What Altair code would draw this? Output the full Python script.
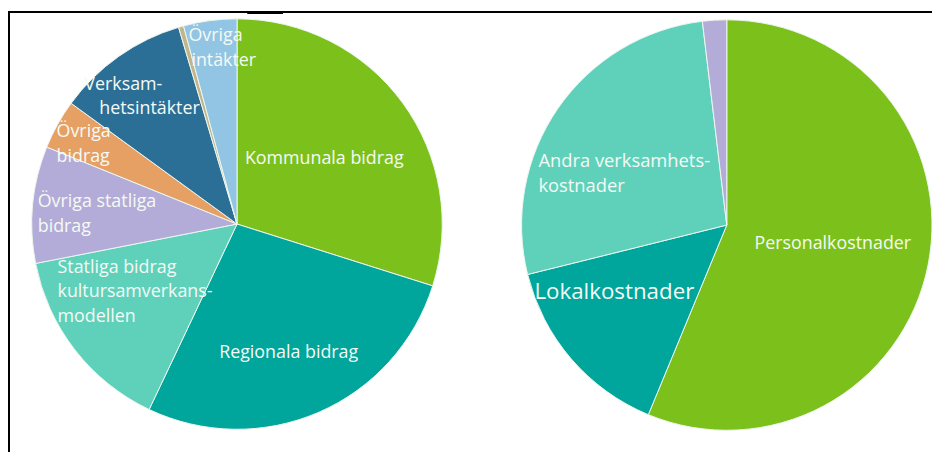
import altair as alt
import pandas as pd

# ---- data ----
left_cats = ["Kommunala bidrag", "Regionala bidrag",
             "Statliga bidrag kultursamverkansmodellen", "Övriga statliga bidrag",
             "Övriga bidrag", "Verksamhetsintäkter", "Övrigt", "Övriga intäkter"]
left_vals = [29.9, 27.2, 14.9, 9.2, 3.9, 10.4, 0.4, 4.2]
left_colors = ["#7cc11b", "#00a59c", "#5fd1bb", "#b4acd8",
               "#e6a064", "#2b6f97", "#c2b58c", "#92c5e3"]

right_cats = ["Personalkostnader", "Lokalkostnader",
              "Andra verksamhetskostnader", "Övriga kostnader"]
right_vals = [56.3, 14.9, 27.0, 1.9]
right_colors = ["#7cc11b", "#00a59c", "#5fd1bb", "#b4acd8"]

label_lines = ["Kommunala bidrag", "Regionala bidrag",
               "Statliga bidrag", "kultursamverkans-", "modellen",
               "Övriga statliga", "bidrag",
               "Övriga", "bidrag",
               "Verksam-", "hetsintäkter",
               "Övriga", "intäkter",
               "Andra verksamhets-", "kostnader",
               "Lokalkostnader", "Personalkostnader"]

# ---- layout (pixel positions of label lines, sizes) ----
label_x = [239, 213, 50, 50, 50, 30, 30, 49, 49, 77, 92, 182, 185, 535, 535, 531, 753]
label_y = [150, 346, 260, 285, 310, 194, 219, 123, 148, 76, 100, 26, 52, 152, 178, 285, 236]
label_fs = [18, 18, 18, 18, 18, 18, 18, 18, 18, 18, 18, 18, 18, 18.5, 18.5, 22.5, 18]

W, H = 932, 446

left_df = pd.DataFrame({"cat": left_cats, "value": left_vals,
                        "idx": list(range(len(left_cats)))})
right_df = pd.DataFrame({"cat": right_cats, "value": right_vals,
                         "idx": list(range(len(right_cats)))})
lab_df = pd.DataFrame({"text": label_lines, "px": label_x, "py": label_y, "fs": label_fs})


def pie(df, cats, colors, cx, cy, r):
    return alt.Chart(df).mark_arc(outerRadius=r, stroke="#eef6ee", strokeWidth=1).encode(
        theta=alt.Theta("value:Q", stack=True),
        color=alt.Color("cat:N", scale=alt.Scale(domain=cats, range=colors), legend=None),
        order=alt.Order("idx:Q"),
        x=alt.value(cx),
        y=alt.value(cy),
    )


left_pie = pie(left_df, left_cats, left_colors, 231, 216, 207)
right_pie = pie(right_df, right_cats, right_colors, 725, 217, 207)

labels = alt.Chart(lab_df).mark_text(
    align="left", baseline="middle", color="#f4faf4", font="Open Sans"
).encode(
    x=alt.X("px:Q", scale=None),
    y=alt.Y("py:Q", scale=None),
    size=alt.Size("fs:Q", scale=None),
    text="text:N",
)

frame_top = alt.Chart(lab_df).mark_rule(color="#000000", strokeWidth=1.5).encode(
    x=alt.value(0), x2=alt.value(W), y=alt.value(2))
frame_left = alt.Chart(lab_df).mark_rule(color="#000000", strokeWidth=1.5).encode(
    x=alt.value(0.75), y=alt.value(2), y2=alt.value(H))
frame_bit = alt.Chart(lab_df).mark_rule(color="#000000", strokeWidth=3).encode(
    x=alt.value(242), x2=alt.value(277), y=alt.value(2.5))

chart = alt.layer(left_pie, right_pie, labels, frame_top, frame_left, frame_bit).resolve_scale(
    theta="independent", color="independent"
).properties(
    width=W, height=H, padding=0, autosize=alt.AutoSizeParams(type="none")
).configure_view(stroke=None)

chart.save("out.html", embed_options={"renderer": "svg", "actions": False})
